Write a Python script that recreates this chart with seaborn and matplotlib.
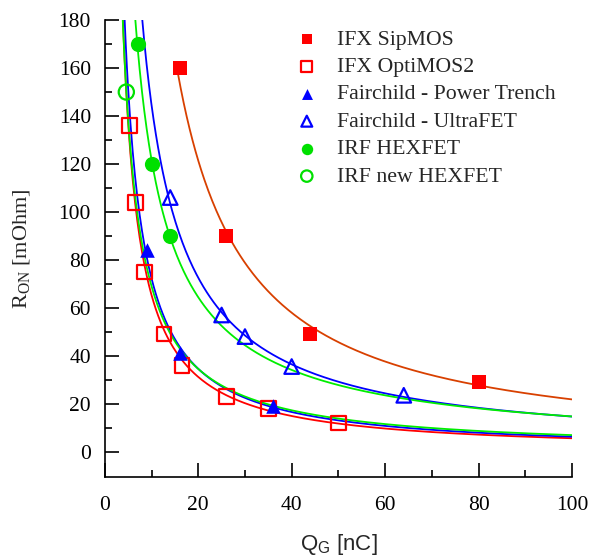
import numpy as np
import matplotlib
matplotlib.use("Agg")
import matplotlib.pyplot as plt
import seaborn as sns

# ---------------- data ----------------
sipmos_q = [16, 26, 44, 80]
sipmos_r = [160, 90, 49, 29]

optimos_q = [5.3, 6.6, 8.5, 12.7, 16.5, 26, 35, 50]
optimos_r = [136, 104, 75, 49, 36, 23, 18, 12]

trench_q = [9, 16, 36]
trench_r = [84, 41, 19]

ultrafet_q = [14, 25, 30, 40, 64]
ultrafet_r = [106, 57, 48, 35.5, 23.5]

hexfet_q = [7, 10, 14]
hexfet_r = [170, 120, 90]

newhex_q = [4.6]
newhex_r = [150]

labels = ["IFX SipMOS", "IFX OptiMOS2", "Fairchild - Power Trench",
          "Fairchild - UltraFET", "IRF HEXFET", "IRF new HEXFET"]

RED, BLUE, GREEN, CURVE_RED = "#ff0000", "#0000ff", "#00e000", "#d84000"
SERIF = "Liberation Serif"

series = [
    # q, r, label, colour, marker, filled, curve colour, curve start
    (sipmos_q, sipmos_r, labels[0], RED, "s", True, CURVE_RED, 15.6),
    (optimos_q, optimos_r, labels[1], RED, "s", False, RED, 1),
    (trench_q, trench_r, labels[2], BLUE, "^", True, BLUE, 1),
    (ultrafet_q, ultrafet_r, labels[3], BLUE, "^", False, BLUE, 1),
    (hexfet_q, hexfet_r, labels[4], GREEN, "o", True, "#00ee00", 1),
    (newhex_q, newhex_r, labels[5], GREEN, "o", False, "#00ee00", 1),
]

sns.set_style("white")
plt.rcParams["font.family"] = [SERIF, "DejaVu Serif"]

fig = plt.figure(figsize=(5.89, 5.59), dpi=100)
ax = fig.add_axes([0.178, 0.147, 0.793, 0.817])

# power-law fits R = a * Q^b (single point -> b = -1)
for q, r, lab, col, mk, filled, ccol, q0 in series:
    q = np.array(q, float)
    r = np.array(r, float)
    if len(q) > 1:
        b, loga = np.polyfit(np.log(q), np.log(r), 1)
        a = np.exp(loga)
    else:
        b = -1.0
        a = r[0] * q[0]
    qq = np.linspace(q0, 100, 400)
    sns.lineplot(x=qq, y=a * qq ** b, color=ccol, lw=1.3, ax=ax, zorder=2)

for q, r, lab, col, mk, filled, ccol, q0 in series:
    size = 110 if mk != "o" else 120
    if filled:
        sns.scatterplot(x=q, y=r, marker=mk, s=size, color=col, edgecolor=col,
                        linewidth=0, label=lab, ax=ax, zorder=3)
    else:
        sns.scatterplot(x=q, y=r, marker=mk, s=size, color=col, facecolors="none",
                        edgecolor=col, linewidth=1.6, label=lab, ax=ax, zorder=3)

ax.set_xlim(0, 100)
ax.set_ylim(-10.5, 180)
ax.set_xticks(np.arange(0, 101, 20))
ax.set_xticks(np.arange(0, 101, 10), minor=True)
ax.set_yticks(np.arange(0, 181, 20))
ax.set_yticks(np.arange(0, 181, 10), minor=True)

for s in ["top", "right"]:
    ax.spines[s].set_visible(False)
for s in ["left", "bottom"]:
    ax.spines[s].set_linewidth(1.2)
    ax.spines[s].set_color("black")

ax.tick_params(which="both", left=True, bottom=True, direction="in", width=1.2,
               colors="black")
ax.tick_params(which="major", length=10, labelsize=15.5, labelfontfamily=SERIF)
ax.tick_params(which="minor", length=5)
ax.tick_params(axis="y", which="major", pad=10)
ax.tick_params(axis="x", which="major", pad=14)

ax.set_xlabel(r"$\mathregular{Q_G}$ [nC]", fontfamily="Liberation Sans",
              fontsize=16, labelpad=12)
ax.set_ylabel(r"$\mathregular{R_{ON}}$ [mOhm]", fontfamily=SERIF,
              fontsize=16, labelpad=19)

ax.legend(loc="upper left", bbox_to_anchor=(0.409, 0.98), frameon=False,
          prop={"family": SERIF, "size": 15.7}, handlelength=1.0,
          handletextpad=0.9, labelspacing=0.33, borderpad=0, borderaxespad=0,
          markerscale=0.75)

fig.savefig("out.png", dpi=100, facecolor="white")
